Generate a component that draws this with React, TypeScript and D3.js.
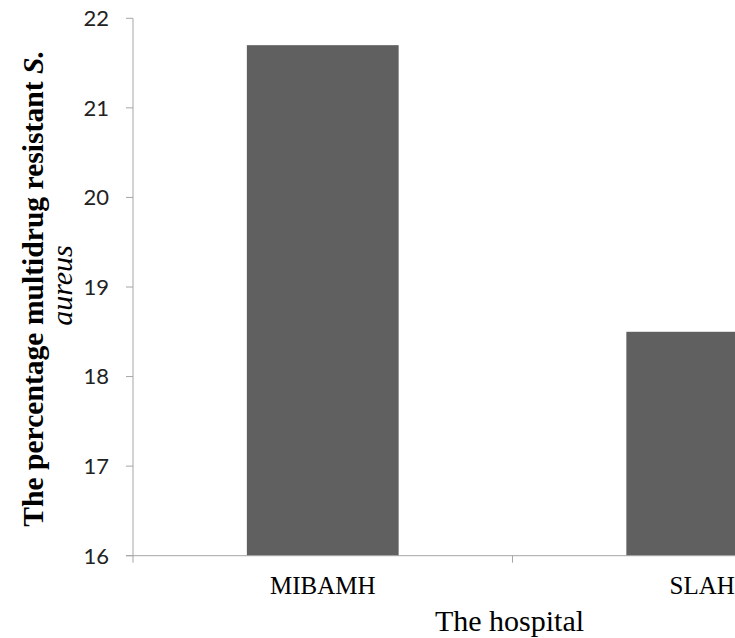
import React from "react";
import * as d3 from "d3";

const categories = ["MIBAMH", "SLAH"];
const values = [21.7, 18.5];
const yTicks = [16, 17, 18, 19, 20, 21, 22];
const xTitle = "The hospital";
const yTitleLine1 = "The percentage multidrug resistant ";
const yTitleItalic1 = "S.";
const yTitleLine2 = "aureus";

const W = 735;
const H = 638;
const left = 133;
const plotRight = 892;
const top = 18.3;
const bottom = 555.7;

export default function App() {
  const x = d3
    .scaleBand<string>()
    .domain(categories)
    .range([left, plotRight])
    .paddingInner(0.6)
    .paddingOuter(0.3);
  const y = d3.scaleLinear().domain([16, 22]).range([bottom, top]);
  const step = x.step();
  const axisColor = "#a6a6a6";
  const boundaries = d3.range(categories.length + 1).map((i) => left + i * step);
  const midY = (top + bottom) / 2;

  return (
    <svg
      width={W}
      height={H}
      style={{ position: "absolute", left: 0, top: 0, background: "#fff" }}
    >
      {categories.map((c, i) => (
        <rect
          key={c}
          x={x(c)}
          y={y(values[i])}
          width={x.bandwidth()}
          height={y(16) - y(values[i])}
          fill="#606060"
        />
      ))}
      <line x1={left} x2={left} y1={y(22)} y2={y(16)} stroke={axisColor} strokeWidth={1} />
      {yTicks.map((t) => (
        <g key={t}>
          <line x1={left - 7} x2={left} y1={y(t)} y2={y(t)} stroke={axisColor} strokeWidth={1} />
          <text
            x={109}
            y={y(t) + 7.8}
            textAnchor="end"
            fontFamily="Lato, 'Open Sans', sans-serif"
            fontSize={22}
            fill="#222"
          >
            {t}
          </text>
        </g>
      ))}
      <line x1={left - 7} x2={plotRight} y1={bottom} y2={bottom} stroke={axisColor} strokeWidth={1} />
      {boundaries.map((b, i) => (
        <line key={i} x1={b} x2={b} y1={bottom} y2={bottom + 7} stroke={axisColor} strokeWidth={1} />
      ))}
      {categories.map((c) => (
        <text
          key={c}
          x={(x(c) as number) + x.bandwidth() / 2}
          y={594}
          textAnchor="middle"
          fontFamily="'Liberation Serif', 'Times New Roman', serif"
          fontSize={25}
          fill="#000"
        >
          {c}
        </text>
      ))}
      <text
        x={(left + plotRight) / 2 - 3}
        y={631}
        textAnchor="middle"
        fontFamily="'Liberation Serif', 'Times New Roman', serif"
        fontSize={30}
        fill="#000"
      >
        {xTitle}
      </text>
      <text
        transform={`translate(43.3, ${midY + 1.5}) rotate(-90)`}
        textAnchor="middle"
        fontFamily="'Liberation Serif', 'Times New Roman', serif"
        fontSize={29.6}
        fontWeight="bold"
        fill="#000"
      >
        {yTitleLine1}
        <tspan fontStyle="italic">{yTitleItalic1}</tspan>
      </text>
      <text
        transform={`translate(71.5, ${midY - 1.5}) rotate(-90)`}
        textAnchor="middle"
        fontFamily="'Liberation Serif', 'Times New Roman', serif"
        fontSize={30}
        fontStyle="italic"
        fill="#000"
      >
        {yTitleLine2}
      </text>
    </svg>
  );
}
